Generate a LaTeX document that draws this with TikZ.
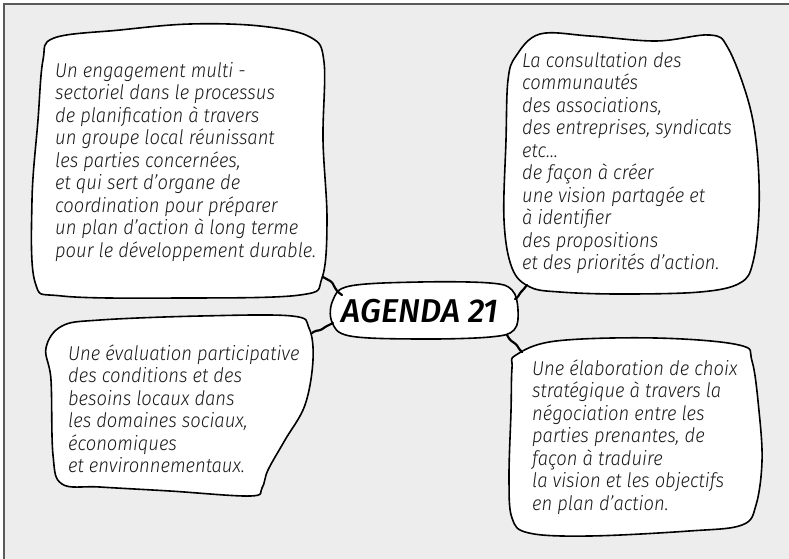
\documentclass[tikz,border=0pt]{standalone}
\usepackage{fontspec}
\newfontfamily\boxfont{Fira Sans Light Italic}[FakeStretch=0.92]
\newfontfamily\titlefont{Fira Sans Medium Italic}
\definecolor{bggray}{HTML}{EDEDED}
\definecolor{framegray}{HTML}{5A5A5A}
\definecolor{inkc}{HTML}{1A1A1A}
\tikzset{
  blob/.style={draw=black, fill=white, line width=1.6pt, line join=round},
  conn/.style={draw=black, line width=2.2pt, line cap=round, line join=round, rounded corners=1.5pt},
  txt/.style={anchor=base west, inner sep=0pt, text=inkc, font=\boxfont\fontsize{20}{22.5}\selectfont},
  title/.style={anchor=base, inner sep=0pt, text=black, font=\titlefont\fontsize{33}{36}\selectfont}
}
\newcommand{\lines}[1]{\begin{tabular}[t]{@{}l@{}}#1\end{tabular}}
\begin{document}
\begin{tikzpicture}[x=1pt,y=-1pt]
\useasboundingbox (0,0) rectangle (789,558);
\fill[white] (0,0) rectangle (789,558);
\draw[fill=bggray, draw=framegray, line width=1.4pt] (4,4) rectangle (800,570);

% blobs
\draw[blob] plot[smooth cycle, tension=0.6] coordinates {
 (54,38) (120,30) (190,24) (260,26) (310,37) (324,62) (323,140) (327,220)
 (322,278) (300,295) (180,298) (62,296) (35,282) (32,200) (38,120) (43,60)};
\draw[blob] plot[smooth cycle, tension=0.6] coordinates {
 (516,56) (540,34) (590,36) (656,41) (710,35) (728,48) (748,100) (757,150)
 (759,210) (753,262) (740,283) (700,292) (620,294) (560,292) (530,287)
 (512,268) (504,220) (506,140) (508,80)};
\draw[blob] plot[smooth cycle, tension=0.6] coordinates {
 (62,326) (100,320) (200,316) (292,316) (309,328) (313,360) (305,405)
 (285,440) (268,470) (262,488) (250,496) (170,491) (100,487) (62,484)
 (53,455) (51,380) (46,348)};
\draw[blob] plot[smooth cycle, tension=0.6] coordinates {
 (516,355) (556,341) (656,338) (739,345) (752,361) (759,411) (762,461)
 (756,505) (742,525) (689,531) (589,536) (529,533) (512,518) (509,478)
 (511,411) (512,368)};
\draw[blob] plot[smooth cycle, tension=0.6] coordinates {
 (333,300) (350,286) (420,282) (490,283) (512,290) (518,310) (514,330)
 (490,337) (420,339) (350,336) (332,322)};

% connector end points
\coordinate (b1) at (323,277);
\coordinate (a1) at (342,295);
\coordinate (a2) at (333,323);
\coordinate (b3) at (312,333);
\coordinate (b2) at (527,285);
\coordinate (a3) at (515,299);
\coordinate (a4) at (507,335);
\coordinate (b4) at (522,352);

\draw[conn] (b1) -- (332,282) -- (335,288) -- (338,292) -- (a1);
\draw[conn] (a2) -- (325,327) -- (321,330) -- (315,331) -- (b3);
\draw[conn] (b2) -- (523,290) -- (520,293) -- (518,297) -- (a3);
\draw[conn] (a4) -- (510,340) -- (513,342) -- (517,345) -- (519,349) -- (b4);

% texts
\node[txt] (t1) at (55,77) {\lines{Un engagement multi -\\
sectoriel dans le processus\\
de planification à travers\\
un groupe local réunissant\\
les parties concernées,\\
et qui sert d’organe de\\
coordination pour préparer\\
un plan d’action à long terme\\
pour le développement durable.}};
\node[txt] (t2) at (522,67) {\lines{La consultation des\\
communautés\\
des associations,\\
des entreprises, syndicats\\
etc…\\
de façon à créer\\
une vision partagée et\\
à identifier\\
des propositions\\
et des priorités d’action.}};
\node[txt] (t3) at (68,360) {\lines{Une évaluation participative\\
des conditions et des\\
besoins locaux dans\\
les domaines sociaux,\\
économiques\\
et environnementaux.}};
\node[txt] (t4) at (532,375) {\lines{Une élaboration de choix\\
stratégique à travers la\\
négociation entre les\\
parties prenantes, de\\
façon à traduire\\
la vision et les objectifs\\
en plan d’action.}};
\node[title] (agenda) at (420,322) {AGENDA 21};
\end{tikzpicture}
\end{document}
